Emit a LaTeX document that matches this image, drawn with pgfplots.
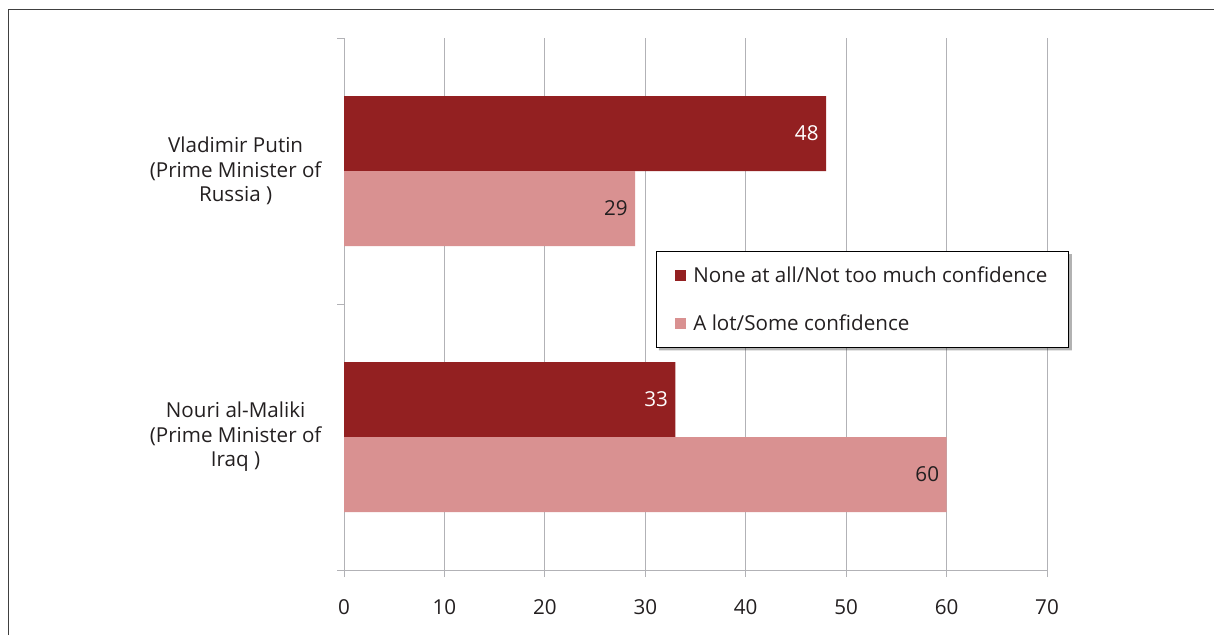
\documentclass[border=0pt]{standalone}
\usepackage{pgfplots}
\pgfplotsset{compat=1.18}
\usepackage{fontspec}
\setmainfont{Open Sans}
\definecolor{darkred}{RGB}{147,32,33}
\definecolor{lightred}{RGB}{217,145,145}
\definecolor{gridc}{RGB}{178,178,182}
\definecolor{txt}{RGB}{35,31,32}
\definecolor{frame}{RGB}{64,64,64}
\newcommand{\fs}{\fontsize{20.6}{24.5}\selectfont}
\begin{document}
\begin{tikzpicture}
\useasboundingbox (0pt,0pt) rectangle (1214pt,-635pt);
\draw[line width=1.5pt, frame] (8.5pt,-635pt) -- (8.5pt,-9.5pt) -- (1214pt,-9.5pt);
\begin{axis}[
  at={(344pt,-570pt)}, anchor=south west,
  scale only axis, width=703pt, height=532pt,
  xbar, bar width=75pt,
  xmin=0, xmax=70, ymin=-0.5, ymax=1.5,
  axis x line*=bottom, axis y line*=left,
  axis line style={gridc, line width=1pt, -},
  xtick={0,10,...,70},
  xmajorgrids, grid style={gridc, line width=1pt},
  tick align=outside, major tick length=7pt,
  tick style={gridc, line width=1pt},
  ytick={-0.5,0.5,1.5}, yticklabels={},
  extra y ticks={0,1},
  extra y tick labels={{Nouri al-Maliki\\(Prime Minister of\\Iraq )},{Vladimir Putin\\(Prime Minister of\\Russia )}},
  extra y tick style={tick style={draw=none}, yticklabel style={align=center, font=\fs, text=txt, xshift=-12pt}},
  xticklabel style={font=\fs, text=txt, yshift=-19pt},
  /pgf/number format/assume math mode=true,
  legend style={name=leg, at={(0.4438,0.5996)}, anchor=north west, draw=black, line width=0.8pt,
    font=\fs, text=txt, inner xsep=19pt, inner ysep=13pt, row sep=27pt,
    cells={anchor=west},
    /tikz/every odd column/.append style={column sep=5pt}},
  legend image code/.code={\fill[#1] (0pt,-5.5pt) rectangle (11pt,5.5pt);},
  nodes near coords,
  nodes near coords style={font=\fs, anchor=east, xshift=-4pt},
]
\addplot[fill=darkred, draw=none, bar shift=37.5pt, every node near coord/.append style={text=white}]
  coordinates {(33,0) (48,1)};
\addplot[fill=lightred, draw=none, bar shift=-37.5pt, every node near coord/.append style={text=txt}]
  coordinates {(60,0) (29,1)};
\legend{None at all/Not too much confidence, A lot/Some confidence}
\end{axis}
\fill[black, opacity=0.3]
  ([xshift=0.4pt,yshift=-3pt]leg.north east) -- ([xshift=3pt,yshift=-3pt]leg.north east)
  -- ([xshift=3pt,yshift=-3pt]leg.south east) -- ([xshift=3pt,yshift=-3pt]leg.south west)
  -- ([xshift=3pt,yshift=-0.4pt]leg.south west) -- ([xshift=0.4pt,yshift=-0.4pt]leg.south east) -- cycle;
\end{tikzpicture}
\end{document}
